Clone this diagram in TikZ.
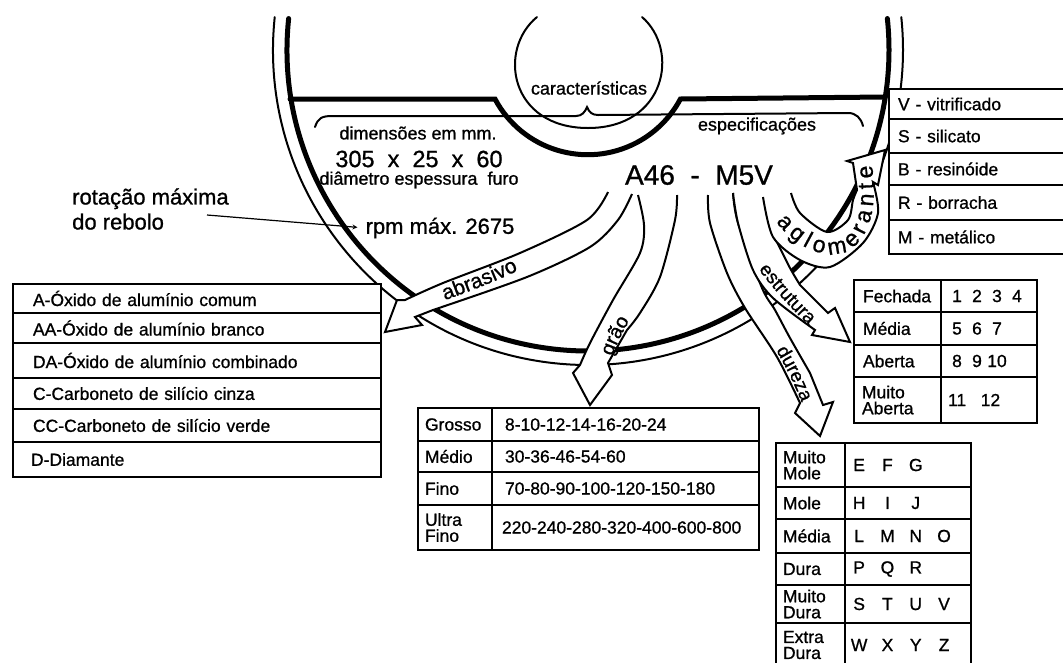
\documentclass[tikz,border=0pt]{standalone}
\usepackage{fontspec}
\setmainfont{Liberation Sans}[FakeBold=0.9]
\usetikzlibrary{decorations.text}
\newcommand{\fsz}[1]{\fontsize{#1}{16}\selectfont}
\newcommand{\lt}[1]{\makebox[28.3pt][c]{#1}}
\newcommand{\nr}[1]{\makebox[20pt][c]{#1}}

\begin{document}
\begin{tikzpicture}[
    x=1pt, y=-1pt,
    cell/.style n args={3}{draw=black, fill=white, line width=2.4pt, anchor=north west, outer sep=0pt, inner ysep=0pt, inner xsep=#3pt, text width=#1pt-2*#3pt, minimum height=#2pt, align=left, font=\fsz{17.5}},
    lbl/.style={inner sep=0pt, font=\fsz{18}},
    ring/.style={draw=black, line cap=round},
    arw/.style={draw=black, fill=white, line width=2pt, line join=miter},
    along/.style={decorate, decoration={text along path, text align=center, text={#1}}}
]
\path[use as bounding box] (0,0) rectangle (1063,662);
\clip (0,0) rectangle (1063,662);

% Wheel
\draw[ring, line width=2pt] (588,50) ++(186:315) arc[start angle=186, end angle=-6, radius=315];
\draw[ring, line width=5pt] (588,50) ++(186:301) arc[start angle=186, end angle=-6, radius=301];

% Hub and top edge
\draw[ring, line width=2pt] (537,17) .. controls (497,50) and (510,128) .. (588,128) .. controls (666,128) and (680,50) .. (642,17);
\draw[ring, line width=5pt] (290,99) -- (495,99) arc[start angle=152, end angle=28, radius=105] -- (885,97);
\draw[ring, line width=2pt] (315,127) .. controls (318,118) and (322,116) .. (332,116) -- (576,116) .. controls (582,116) and (585,112) .. (587,107) .. controls (589,112) and (592,115) .. (598,115) -- (848,113) .. controls (856,113) and (861,118) .. (863,126);

% Wheel texts
\node[lbl] (carac) at (589,88) {características};
\node[lbl] (dim) at (418,133) {dimensões em mm.};
\node[lbl, font=\fsz{23.5}] (med) at (419,159) {305\ \ x\ \ 25\ \ x\ \ 60};
\node[lbl] (nomes) at (419,180) {diâmetro espessura\ \ furo};
\node[lbl, font=\fsz{22}] (rpm) at (440,228) {rpm máx. 2675};
\node[lbl] (espec) at (757,126) {especificações};
\node[lbl, font=\fsz{28}] (cod) at (699,175) {A46\ \ -\ \ M5V};
\node[lbl, font=\fontsize{22}{25}\selectfont, anchor=west, align=left] (rot) at (72,209) {rotação máxima\\do rebolo};

% Rotation pointer
\coordinate (rotfim) at (207,215);
\draw[-stealth, line width=1.2pt, shorten >=8pt] (rotfim) -- (rpm.west);

% Abrasive table
\node[cell={368}{29}{20}] (a1) at (13,284) {A-Óxido de alumínio comum};
\node[cell={368}{30}{20}] (a2) at (13,313) {AA-Óxido de alumínio branco};
\node[cell={368}{35}{20}] (a3) at (13,343) {DA-Óxido de alumínio combinado};
\node[cell={368}{31}{20}] (a4) at (13,378) {C-Carboneto de silício cinza};
\node[cell={368}{33}{20}] (a5) at (13,409) {CC-Carboneto de silício verde};
\node[cell={368}{35}{18}] (a6) at (13,442) {D-Diamante};

% Bond table
\node[cell={190}{30}{9}] (v1) at (889,89) {V - vitrificado};
\node[cell={190}{34}{9}] (v2) at (889,119) {S - silicato};
\node[cell={190}{32}{9}] (v3) at (889,153) {B - resinóide};
\node[cell={190}{35}{9}] (v4) at (889,185) {R - borracha};
\node[cell={190}{34}{9}] (v5) at (889,220) {M - metálico};

% Grain table
\node[cell={74}{33}{7}] (g1) at (418,408) {Grosso};
\node[cell={267}{33}{13}] (g2) at (492,408) {8-10-12-14-16-20-24};
\node[cell={74}{31}{7}] (g3) at (418,441) {Médio};
\node[cell={267}{31}{13}] (g4) at (492,441) {30-36-46-54-60};
\node[cell={74}{33}{7}] (g5) at (418,472) {Fino};
\node[cell={267}{33}{13}] (g6) at (492,472) {70-80-90-100-120-150-180};
\node[cell={74}{45}{7}] (g7) at (418,505) {Ultra\\Fino};
\node[cell={267}{45}{10}] (g8) at (492,505) {220-240-280-320-400-600-800};

% Structure table
\node[cell={87}{32}{9}] (e1) at (854,280) {Fechada};
\node[cell={96}{32}{6}] (e2) at (941,280) {\nr{1}\nr{2}\nr{3}\nr{4}};
\node[cell={87}{33}{9}] (e3) at (854,312) {Média};
\node[cell={96}{33}{6}] (e4) at (941,312) {\nr{5}\nr{6}\nr{7}};
\node[cell={87}{32}{9}] (e5) at (854,345) {Aberta};
\node[cell={96}{32}{6}] (e6) at (941,345) {\nr{8}\nr{9}\nr{10}};
\node[cell={87}{46}{8}] (e7) at (854,377) {Muito\\Aberta};
\node[cell={96}{46}{7}] (e8) at (941,377) {11\enspace{} 12};

% Hardness table
\node[cell={69}{44}{7}] (d1) at (776,443) {Muito\\Mole};
\node[cell={126}{44}{0}] (d2) at (845,443) {\lt{E}\lt{F}\lt{G}};
\node[cell={69}{32}{7}] (d3) at (776,487) {Mole};
\node[cell={126}{32}{0}] (d4) at (845,487) {\lt{H}\lt{I}\lt{J}};
\node[cell={69}{34}{7}] (d5) at (776,519) {Média};
\node[cell={126}{34}{0}] (d6) at (845,519) {\lt{L}\lt{M}\lt{N}\lt{O}};
\node[cell={69}{32}{7}] (d7) at (776,553) {Dura};
\node[cell={126}{32}{0}] (d8) at (845,553) {\lt{P}\lt{Q}\lt{R}};
\node[cell={69}{38}{7}] (d9) at (776,585) {Muito\\Dura};
\node[cell={126}{38}{0}] (d10) at (845,585) {\lt{S}\lt{T}\lt{U}\lt{V}};
\node[cell={69}{44}{7}] (d11) at (776,623) {Extra\\Dura};
\node[cell={126}{44}{0}] (d12) at (845,623) {\lt{W}\lt{X}\lt{Y}\lt{Z}};

% Arrows
\path[arw] plot[smooth] coordinates {(608,192) (587,220) (520,253) (443,283) (405,300)} -- (397,300) -- (385,332) -- (422,325) -- (415,317) -- plot[smooth] coordinates {(433,310) (527,277) (590,247) (618,220) (632,194)};
\path[arw] plot[smooth] coordinates {(638,195) (644,225) (640,253) (613,300) (590,343) (580,365)} -- (573,373) -- (590,405) -- (612,375) -- (608,363) -- plot[smooth] coordinates {(627,330) (640,313) (660,277) (675,220) (677,195)};
\path[arw] plot[smooth] coordinates {(708,195) (710,223) (727,273) (745,308) (777,357) (800,403)} -- (795,413) -- (820,436) -- (833,402) -- (823,405) -- plot[smooth] coordinates {(810,373) (790,338) (775,310) (762,288) (738,223) (733,193)};
\path[arw] plot[smooth] coordinates {(733,193) (738,223) (753,270) (773,298) (815,330)} -- (812,335) -- (850,342) -- (835,308) -- (828,313) -- plot[smooth] coordinates {(800,285) (790,268) (775,238)};
\path[arw] plot[smooth] coordinates {(763,197) (773,237) (800,260) (830,267) (863,243) (878,213) (873,182)} -- (878,185) -- (885,150) -- (847,161) -- (853,163) -- plot[smooth] coordinates {(857,190) (853,200) (848,220) (827,232) (800,213) (791,193)};

% Arrow texts
\path[along={|\fsz{21}|abrasivo}] (440,302) .. controls (465,293) and (495,282) .. (523,268);
\path[along={|\fsz{20}|grão}] (612,357) .. controls (617,343) and (622,333) .. (630,320);
\path[along={|\fsz{19}|estrutura}] (756,266) .. controls (770,285) and (790,308) .. (812,328);
\path[along={|\fsz{19}|dureza}] (774,347) .. controls (785,365) and (795,385) .. (803,406);
\path[decorate, decoration={text along path, text align=fit to path, text={|\fsz{23}|aglomerante}}] (776,222) .. controls (795,245) and (815,255) .. (835,254) .. controls (860,252) and (880,225) .. (872,165);

\end{tikzpicture}
\end{document}
